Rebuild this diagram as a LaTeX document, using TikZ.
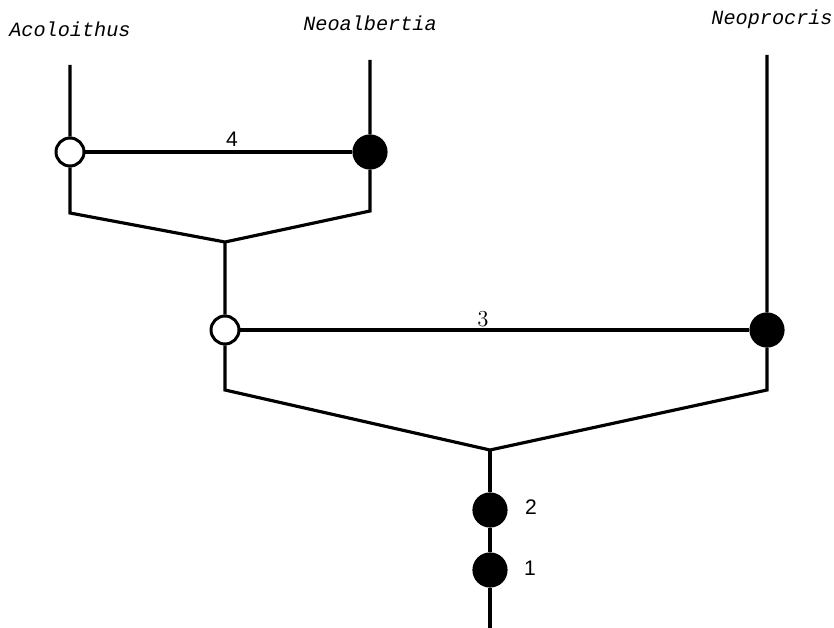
\documentclass[tikz,border=0pt]{standalone}
\usepackage{fontspec}
\setmonofont{Liberation Mono}
\newfontfamily\numfont{Liberation Sans}
\usetikzlibrary{positioning}
\tikzset{opendot/.style={draw,circle,fill=white,line width=1.7pt,inner sep=0pt,minimum size=5.6mm},
filldot/.style={draw,circle,fill=black,inner sep=0pt,minimum size=6.4mm},
taxon/.style={font=\ttfamily\itshape\fontsize{11.5}{13}\selectfont},
charno/.style={font=\numfont\fontsize{12}{13}\selectfont}}

\begin{document}
\begin{tikzpicture}[x=0.02cm,y=-0.02cm,line width=1.8pt]
\useasboundingbox (0,0) rectangle (834,628);
\node[taxon] (aco) at (70,29) {Acoloithus};
\node[taxon] (neoa) at (370,23) {Neoalbertia};
\node[taxon] (neop) at (772,19) {Neoprocris};
\coordinate (Atop) at (70,65);
\coordinate (Ntop) at (370,60);
\coordinate (Ptop) at (767,55);
\node[opendot] (c4a) at (70,152) {};
\node[filldot] (c4b) at (370,152) {};
\node[opendot] (c3a) at (225,330) {};
\node[filldot] (c3b) at (767,330) {};
\node[filldot] (c2) at (490,510) {};
\node[filldot] (c1) at (490,570) {};
\node[charno] (n4) at (232,139) {4};
\node[font=\fontsize{13}{14}\selectfont] (n3) at (483,319) {3};
\node[charno] (n2) at (531,507) {2};
\node[charno] (n1) at (530,568) {1};
\coordinate (Al) at (70,213);
\coordinate (Nr) at (370,211);
\coordinate (J4) at (225,242);
\coordinate (Bl) at (225,390);
\coordinate (Pr) at (767,390);
\coordinate (J3) at (490,450);
\coordinate (root) at (490,628);
% clade Acoloithus + Neoalbertia
\draw (Atop) -- (c4a) -- (Al) -- (J4) -- (Nr) -- (c4b) -- (Ntop);
\draw (c4a) -- (c4b);
% clade with Neoprocris
\draw (J4) -- (c3a) -- (Bl) -- (J3) -- (Pr) -- (c3b) -- (Ptop);
\draw (c3a) -- (c3b);
% stem
\draw (J3) -- (c2) -- (c1) -- (root);
\end{tikzpicture}
\end{document}
